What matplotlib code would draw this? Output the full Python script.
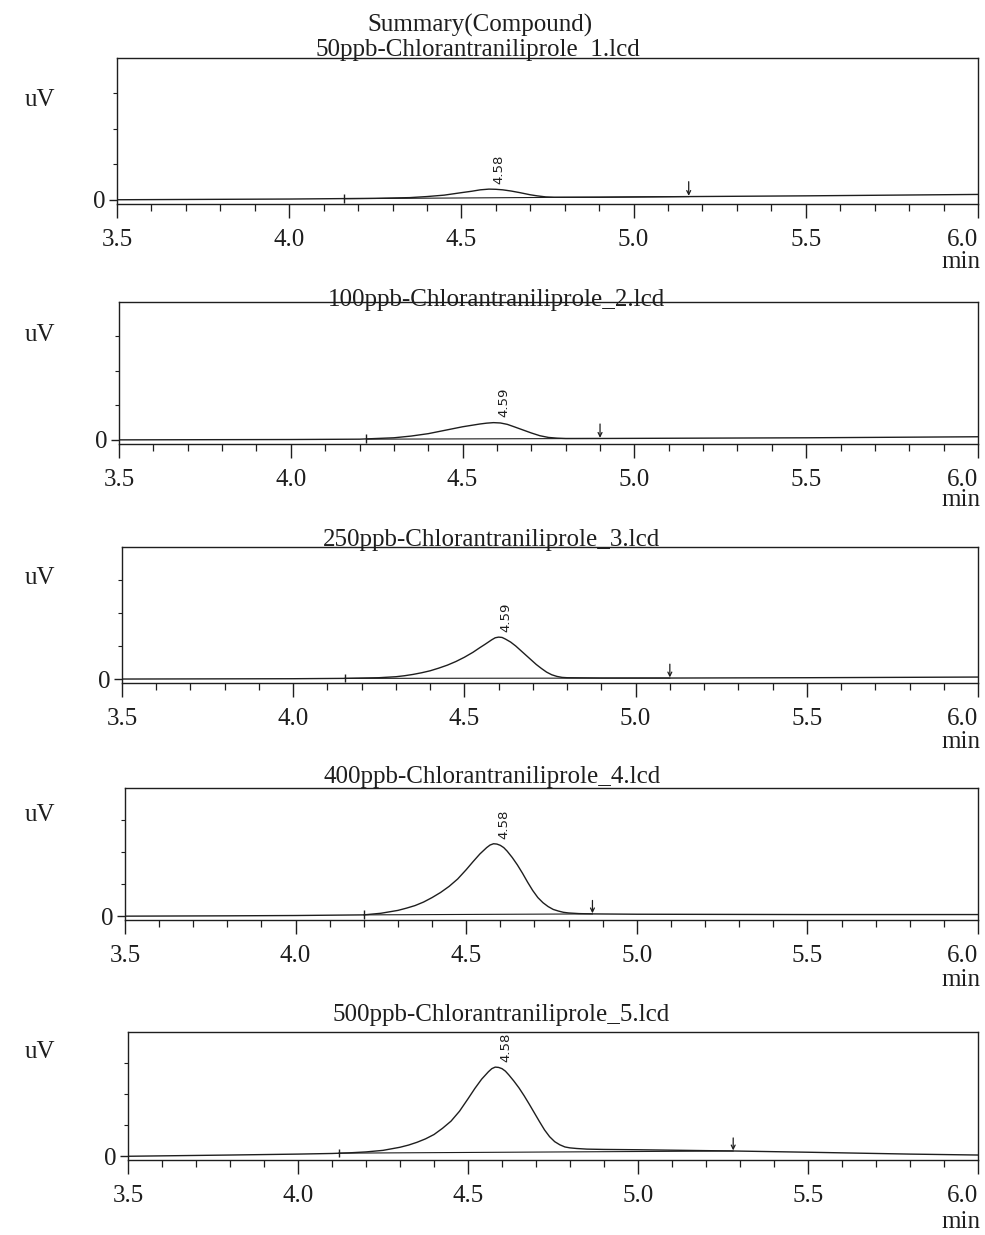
import matplotlib
matplotlib.use('Agg')
import matplotlib.pyplot as plt
from matplotlib.ticker import MultipleLocator, FixedLocator

# Sample names and retention times of the labelled peak
samples = ['50ppb-Chlorantraniliprole_1.lcd',
           '100ppb-Chlorantraniliprole_2.lcd',
           '250ppb-Chlorantraniliprole_3.lcd',
           '400ppb-Chlorantraniliprole_4.lcd',
           '500ppb-Chlorantraniliprole_5.lcd']
peak_rt = [4.58, 4.59, 4.59, 4.58, 4.58]
peak_label = ['4.58', '4.59', '4.59', '4.58', '4.58']
x_ticks = [3.5, 4.0, 4.5, 5.0, 5.5, 6.0]
x_ticklabels = ['3.5', '4.0', '4.5', '5.0', '5.5', '6.0']

# Integration start / end marks (min) and the signal there
start_t = [4.16, 4.22, 4.15, 4.20, 4.12]
end_t = [5.16, 4.90, 5.10, 4.87, 5.28]
start_v = [0.03, 0.02, 0.02, 0.04, 0.10]
end_v = [0.09, 0.04, 0.03, 0.07, 0.17]

# Traces (time in min, signal in tick units)
t1 = [3.5, 4.0, 4.25, 4.35, 4.4, 4.45, 4.5, 4.53, 4.555, 4.58, 4.6, 4.62, 4.645, 4.67, 4.7,
      4.72, 4.745, 4.77, 4.9, 5.17, 5.5, 6.0]
y1 = [0.0, 0.02, 0.04, 0.06, 0.09, 0.13, 0.2, 0.24, 0.28, 0.3, 0.295, 0.28, 0.245, 0.2, 0.14,
      0.11, 0.08, 0.07, 0.07, 0.09, 0.11, 0.15]

t2 = [3.5, 4.0, 4.2, 4.3, 4.35, 4.4, 4.45, 4.5, 4.55, 4.57, 4.59, 4.61, 4.63, 4.65, 4.675, 4.7,
      4.725, 4.75, 4.775, 4.8, 4.9, 5.2, 5.5, 6.0]
y2 = [0.0, 0.01, 0.02, 0.06, 0.11, 0.18, 0.28, 0.38, 0.46, 0.485, 0.5, 0.49, 0.45, 0.38, 0.29, 0.2,
      0.12, 0.07, 0.05, 0.04, 0.04, 0.05, 0.06, 0.09]

t3 = [3.5, 4.0, 4.15, 4.25, 4.3, 4.325, 4.35, 4.375, 4.4, 4.425, 4.45, 4.475, 4.5, 4.525, 4.545,
      4.56, 4.57, 4.58, 4.59, 4.6, 4.61, 4.62, 4.635, 4.65, 4.665, 4.68, 4.695, 4.71, 4.725,
      4.74, 4.755, 4.77, 4.785, 4.8, 4.9, 5.1, 5.5, 6.0]
y3 = [0.0, 0.01, 0.02, 0.04, 0.07, 0.1, 0.14, 0.19, 0.25, 0.33, 0.42, 0.53, 0.66, 0.81, 0.95,
      1.05, 1.12, 1.19, 1.25, 1.27, 1.26, 1.21, 1.12, 1.0, 0.86, 0.72, 0.58, 0.44, 0.32,
      0.21, 0.13, 0.08, 0.05, 0.04, 0.03, 0.03, 0.04, 0.06]

t4 = [3.5, 3.8, 4.0, 4.2, 4.25, 4.3, 4.325, 4.35, 4.375, 4.4, 4.425, 4.45, 4.475, 4.5, 4.52,
      4.54, 4.55, 4.56, 4.57, 4.58, 4.59, 4.6, 4.61, 4.62, 4.635, 4.65, 4.665, 4.68, 4.695,
      4.71, 4.725, 4.74, 4.755, 4.77, 4.785, 4.8, 4.83, 4.87, 5.0, 5.5, 6.0]
y4 = [0.0, 0.01, 0.02, 0.04, 0.09, 0.18, 0.25, 0.33, 0.44, 0.58, 0.74, 0.93, 1.16, 1.45, 1.7,
      1.94, 2.04, 2.14, 2.22, 2.26, 2.25, 2.21, 2.14, 2.03, 1.83, 1.6, 1.34, 1.06, 0.8,
      0.58, 0.42, 0.3, 0.21, 0.16, 0.12, 0.1, 0.08, 0.07, 0.06, 0.05, 0.05]

t5 = [3.5, 3.8, 4.0, 4.1, 4.15, 4.2, 4.25, 4.3, 4.325, 4.35, 4.375, 4.4, 4.425, 4.45, 4.475,
      4.5, 4.52, 4.54, 4.55, 4.56, 4.57, 4.58, 4.59, 4.6, 4.61, 4.62, 4.635, 4.65, 4.665, 4.68,
      4.695, 4.71, 4.725, 4.74, 4.755, 4.77, 4.785, 4.8, 4.82, 4.85, 4.9, 5.0, 5.28, 5.5,
      5.8, 6.0]
y5 = [0.0, 0.04, 0.07, 0.09, 0.11, 0.14, 0.19, 0.29, 0.36, 0.45, 0.56, 0.7, 0.9, 1.13, 1.45,
      1.85, 2.18, 2.48, 2.6, 2.72, 2.82, 2.87, 2.86, 2.82, 2.74, 2.62, 2.42, 2.2, 1.95, 1.68,
      1.4, 1.12, 0.85, 0.63, 0.47, 0.37, 0.3, 0.27, 0.25, 0.23, 0.22, 0.21, 0.17, 0.13,
      0.07, 0.04]

times = [t1, t2, t3, t4, t5]
signals = [y1, y2, y3, y4, y5]

W, H = 985, 1235
SERIF = 'Liberation Serif'
INK = '#1e1e1e'
FS = 18

# panel geometry in pixels (scan is a bit skewed, so left edges drift)
left_px = [117, 119, 122, 125, 128]
top_px = [58, 302, 547, 788, 1032]
bottom_px = [204, 444, 683, 920, 1160]
right_px = 978
title_pos = [(478, 50), (496, 300), (491, 540), (492, 777), (501, 1015)]
uv_y = [100, 335, 578, 815, 1052]
min_y = [262, 500, 742, 980, 1222]


def fx(x):
    return x / W


def fy(y):
    return 1 - y / H


fig = plt.figure(figsize=(W / 100, H / 100), dpi=100)
fig.text(fx(480), fy(25), 'Summary(Compound)', family=SERIF, fontsize=FS,
         ha='center', va='center', color=INK)

for i in range(5):
    l, t, b = left_px[i], top_px[i], bottom_px[i]
    ax = fig.add_axes([fx(l), fy(b), (right_px - l) / W, (b - t) / H])
    ax.set_xlim(3.5, 6.0)
    ax.set_ylim(-0.12, 4.0)

    ax.plot(times[i], signals[i], color=INK, lw=1.0)
    # integration baseline under the peak
    ax.plot([start_t[i], end_t[i]], [start_v[i], end_v[i]], color=INK, lw=0.8)
    # start mark and end arrow
    ax.vlines(start_t[i], start_v[i] - 0.12, start_v[i] + 0.14, color=INK, lw=1.0)
    ax.annotate('', xy=(end_t[i], end_v[i] + 0.02), xytext=(end_t[i], end_v[i] + 0.42),
                arrowprops=dict(arrowstyle='->', color=INK, lw=0.9,
                                shrinkA=0, shrinkB=0, mutation_scale=7))

    pk = max(signals[i])
    ax.text(peak_rt[i] + 0.03, pk + 0.15, peak_label[i], rotation=90,
            ha='center', va='bottom', fontsize=9.5, family='DejaVu Sans', color=INK)

    for s in ['top', 'bottom', 'left', 'right']:
        ax.spines[s].set_color(INK)
        ax.spines[s].set_linewidth(1.0)

    ax.set_xticks(x_ticks)
    ax.set_xticklabels(x_ticklabels, family=SERIF, fontsize=FS, color=INK)
    ax.get_xticklabels()[-1].set_horizontalalignment('right')
    ax.xaxis.set_minor_locator(MultipleLocator(0.1))
    ax.tick_params(axis='x', which='major', direction='out', length=10,
                   width=1.0, color=INK, pad=8)
    ax.tick_params(axis='x', which='minor', direction='out', length=5,
                   width=0.9, color=INK)

    ax.set_yticks([0])
    ax.set_yticklabels(['0'], family=SERIF, fontsize=FS, color=INK)
    ax.yaxis.set_minor_locator(FixedLocator([1, 2, 3]))
    ax.tick_params(axis='y', which='major', direction='out', length=6,
                   width=1.0, color=INK, pad=2)
    ax.tick_params(axis='y', which='minor', direction='out', length=3,
                   width=0.8, color=INK)

    tx, ty = title_pos[i]
    fig.text(fx(tx), fy(ty), samples[i], family=SERIF, fontsize=FS,
             ha='center', va='center', color=INK)
    fig.text(fx(40), fy(uv_y[i]), 'uV', family=SERIF, fontsize=FS,
             ha='center', va='center', color=INK)
    fig.text(fx(980), fy(min_y[i]), 'min', family=SERIF, fontsize=FS,
             ha='right', va='center', color=INK)

fig.savefig('out.png', dpi=100, facecolor='white')
